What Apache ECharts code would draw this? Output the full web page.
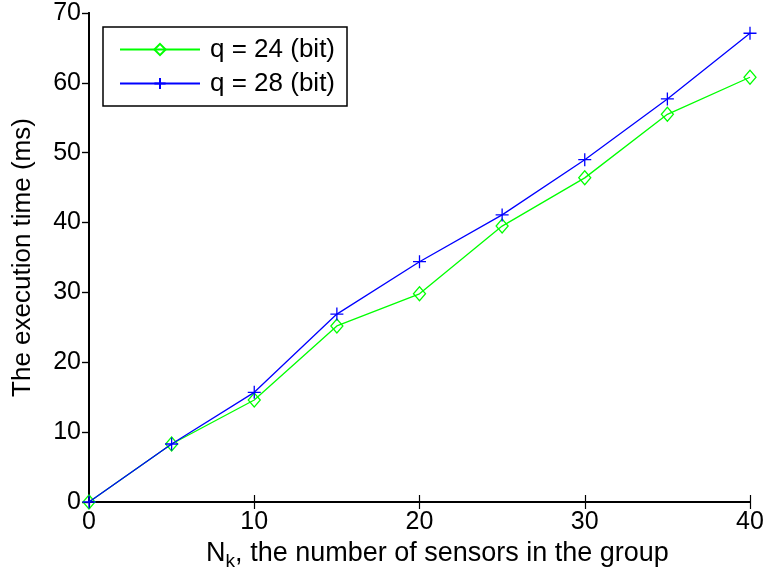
<!DOCTYPE html>
<html>
<head>
<meta charset="utf-8">
<script src="https://cdn.jsdelivr.net/npm/echarts@6/dist/echarts.min.js"></script>
<style>
  html, body { margin: 0; padding: 0; background: #fff; }
  #chart { width: 768px; height: 583px; }
</style>
</head>
<body>
<div id="chart"></div>
<script>
// Group sizes (number of sensors)
const sensorCounts = [0, 5, 10, 15, 20, 25, 30, 35, 40];
// Execution time in ms for each key length
const time24 = [0, 8.3, 14.6, 25.2, 29.8, 39.5, 46.4, 55.5, 60.8];
const time28 = [0, 8.3, 15.7, 26.9, 34.4, 41.1, 49.0, 57.7, 67.1];
const seriesNames = ['q = 24 (bit)', 'q = 28 (bit)'];

const FONT = 'Liberation Sans, Arial, sans-serif';
const pairs = (ys) => sensorCounts.map((x, i) => [x, ys[i]]);

const chart = echarts.init(document.getElementById('chart'), null, { renderer: 'canvas' });

function axisLine() { return { show: true, lineStyle: { color: '#000', width: 2 } }; }
function ticks(inside) {
  return { show: true, inside: inside, length: 7, lineStyle: { color: '#000', width: 1.2 } };
}

chart.setOption({
  animation: false,
  backgroundColor: '#fff',
  grid: { left: 89, top: 13, right: 18, bottom: 81, containLabel: false },
  legend: {
    left: 103, top: 27,
    orient: 'vertical',
    backgroundColor: '#fff',
    borderColor: '#000',
    borderWidth: 1.5,
    padding: [9, 12, 9, 16],
    itemGap: 7,
    itemWidth: 80,
    itemHeight: 14,
    textStyle: { fontFamily: FONT, fontSize: 26, lineHeight: 27, color: '#000', padding: [0, 0, 0, 5] },
    data: seriesNames
  },
  xAxis: [{
    type: 'value', min: 0, max: 40, interval: 10,
    name: '{n|N}{s|k}{n|, the number of sensors in the group}',
    nameLocation: 'middle', nameGap: 32,
    nameTextStyle: {
      padding: [0, 0, 0, 36],
      rich: {
        n: { fontFamily: FONT, fontSize: 27, color: '#000' },
        s: { fontFamily: FONT, fontSize: 19, color: '#000', padding: [16, 0, 0, 0] }
      }
    },
    axisLine: axisLine(), axisTick: ticks(true),
    axisLabel: { fontFamily: FONT, fontSize: 25, color: '#000', margin: 8 },
    splitLine: { show: false }
  }, {
    type: 'value', min: 0, max: 40, interval: 10, position: 'top',
    axisLine: axisLine(), axisTick: ticks(true),
    axisLabel: { show: false }, splitLine: { show: false }
  }],
  yAxis: [{
    type: 'value', min: 0, max: 70, interval: 10,
    name: 'The execution time (ms)',
    nameLocation: 'middle', nameGap: 53, nameRotate: 90,
    nameTextStyle: { fontFamily: FONT, fontSize: 26, color: '#000' },
    axisLine: axisLine(), axisTick: ticks(false),
    axisLabel: { fontFamily: FONT, fontSize: 25, color: '#000', margin: 8 },
    splitLine: { show: false }
  }, {
    type: 'value', min: 0, max: 70, interval: 10, position: 'right',
    axisLine: axisLine(), axisTick: ticks(true),
    axisLabel: { show: false }, splitLine: { show: false }
  }],
  series: [{
    name: seriesNames[0],
    type: 'line',
    data: pairs(time24),
    symbol: 'diamond',
    symbolSize: [12, 14],
    lineStyle: { color: '#00ff00', width: 1.3 },
    itemStyle: { color: 'rgba(255,255,255,0)', borderColor: '#00ff00', borderWidth: 1.3 },
    z: 3
  }, {
    name: seriesNames[1],
    type: 'line',
    data: pairs(time28),
    symbol: 'path://M0,6L12,6M6,0L6,12',
    symbolSize: 13,
    lineStyle: { color: '#0000ff', width: 1.3 },
    itemStyle: { color: '#0000ff', borderColor: '#0000ff', borderWidth: 1.3 },
    z: 4
  }]
});
</script>
</body>
</html>
